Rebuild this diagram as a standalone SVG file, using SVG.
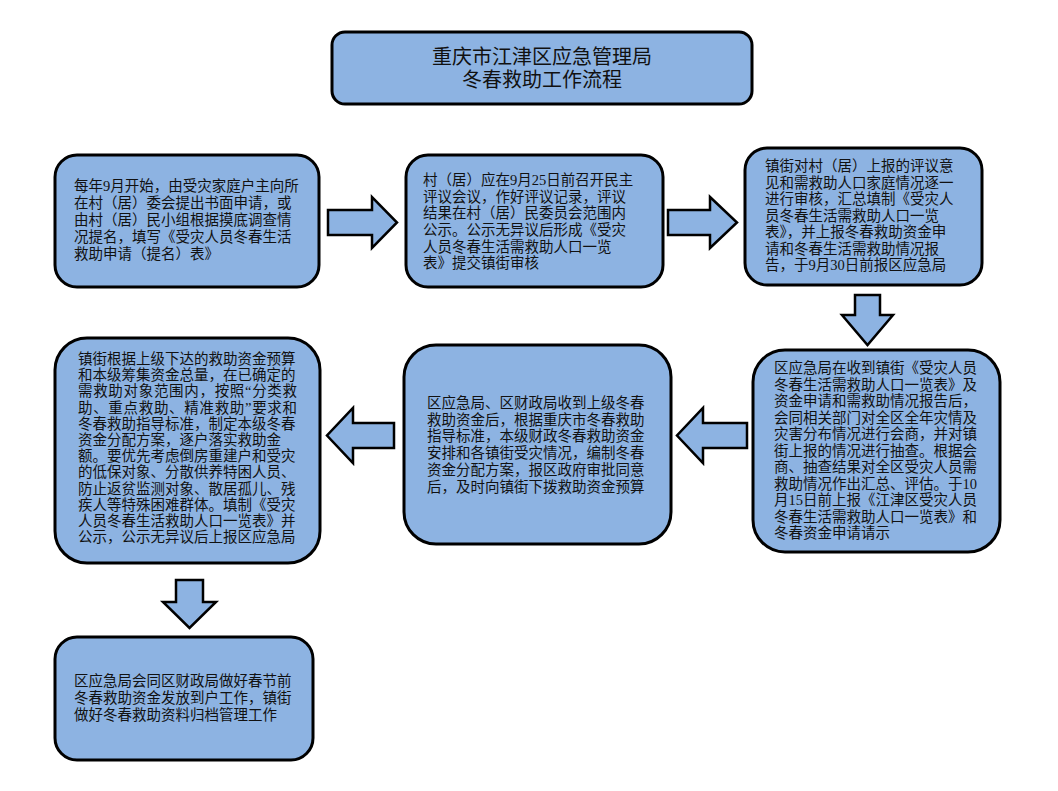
<svg xmlns="http://www.w3.org/2000/svg" width="1058" height="791" viewBox="0 0 1058 791">
<style>
.box{fill:#8DB3E2;stroke:#000;stroke-width:3}
.arr{fill:#8DB3E2;stroke:#000;stroke-width:2.5;stroke-linejoin:miter}
.t{font-family:"Liberation Serif","Noto Sans CJK SC",sans-serif;font-size:14.5px;fill:#111}
.title{font-family:"Liberation Sans","Noto Sans CJK SC","Noto Sans CJK JP",sans-serif;font-size:20px;fill:#111;text-anchor:middle}
</style>
<rect width="1058" height="791" fill="#fff"/>
<g id="title">
<rect class="box" x="332" y="32" width="420" height="72" rx="13"/>
<text class="title" x="542" y="64">重庆市江津区应急管理局</text>
<text class="title" x="542" y="87">冬春救助工作流程</text>
</g>
<g id="n1">
<rect class="box" x="55" y="155" width="264" height="132" rx="22"/>
<text class="t" x="74" y="191">每年9月开始，由受灾家庭户主向所</text>
<text class="t" x="74" y="208">在村（居）委会提出书面申请，或</text>
<text class="t" x="74" y="225">由村（居）民小组根据摸底调查情</text>
<text class="t" x="74" y="242">况提名，填写《受灾人员冬春生活</text>
<text class="t" x="74" y="259">救助申请（提名）表》</text>
</g>
<g id="n2">
<rect class="box" x="406" y="155" width="257" height="132" rx="22"/>
<text class="t" x="423" y="185">村（居）应在9月25日前召开民主</text>
<text class="t" x="423" y="202">评议会议，作好评议记录，评议</text>
<text class="t" x="423" y="218">结果在村（居）民委员会范围内</text>
<text class="t" x="423" y="235">公示。公示无异议后形成《受灾</text>
<text class="t" x="423" y="252">人员冬春生活需救助人口一览</text>
<text class="t" x="423" y="268">表》提交镇街审核</text>
</g>
<g id="n3">
<rect class="box" x="745" y="148" width="237" height="137" rx="22"/>
<text class="t" x="765" y="171">镇街对村（居）上报的评议意</text>
<text class="t" x="765" y="187.5">见和需救助人口家庭情况逐一</text>
<text class="t" x="765" y="204">进行审核，汇总填制《受灾人</text>
<text class="t" x="765" y="220.5">员冬春生活需救助人口一览</text>
<text class="t" x="765" y="237">表》，并上报冬春救助资金申</text>
<text class="t" x="765" y="253.5">请和冬春生活需救助情况报</text>
<text class="t" x="765" y="270">告，于9月30日前报区应急局</text>
</g>
<g id="n4">
<rect class="box" x="753" y="350" width="247" height="202" rx="32"/>
<text class="t" x="774" y="373">区应急局在收到镇街《受灾人员</text>
<text class="t" x="774" y="389.5">冬春生活需救助人口一览表》及</text>
<text class="t" x="774" y="406">资金申请和需救助情况报告后，</text>
<text class="t" x="774" y="422.5">会同相关部门对全区全年灾情及</text>
<text class="t" x="774" y="439">灾害分布情况进行会商，并对镇</text>
<text class="t" x="774" y="455.5">街上报的情况进行抽查。根据会</text>
<text class="t" x="774" y="472">商、抽查结果对全区受灾人员需</text>
<text class="t" x="774" y="488.5">救助情况作出汇总、评估。于10</text>
<text class="t" x="774" y="505">月15日前上报《江津区受灾人员</text>
<text class="t" x="774" y="521.5">冬春生活需救助人口一览表》和</text>
<text class="t" x="774" y="538">冬春资金申请请示</text>
</g>
<g id="n5">
<rect class="box" x="404" y="345" width="267" height="199" rx="32"/>
<text class="t" x="427" y="408">区应急局、区财政局收到上级冬春</text>
<text class="t" x="427" y="425">救助资金后，根据重庆市冬春救助</text>
<text class="t" x="427" y="441">指导标准，本级财政冬春救助资金</text>
<text class="t" x="427" y="458">安排和各镇街受灾情况，编制冬春</text>
<text class="t" x="427" y="475">资金分配方案，报区政府审批同意</text>
<text class="t" x="427" y="492">后，及时向镇街下拨救助资金预算</text>
</g>
<g id="n6">
<rect class="box" x="55" y="338" width="265" height="225" rx="32"/>
<text class="t" x="78" y="364">镇街根据上级下达的救助资金预算</text>
<text class="t" x="78" y="380.2">和本级筹集资金总量，在已确定的</text>
<text class="t" x="78" y="396.4" textLength="219" lengthAdjust="spacing">需救助对象范围内，按照“分类救</text>
<text class="t" x="78" y="412.6" textLength="219" lengthAdjust="spacing">助、重点救助、精准救助”要求和</text>
<text class="t" x="78" y="428.8">冬春救助指导标准，制定本级冬春</text>
<text class="t" x="78" y="445">资金分配方案，逐户落实救助金</text>
<text class="t" x="78" y="461.2">额。要优先考虑倒房重建户和受灾</text>
<text class="t" x="78" y="477.4">的低保对象、分散供养特困人员、</text>
<text class="t" x="78" y="493.6">防止返贫监测对象、散居孤儿、残</text>
<text class="t" x="78" y="509.8">疾人等特殊困难群体。填制《受灾</text>
<text class="t" x="78" y="526">人员冬春生活救助人口一览表》并</text>
<text class="t" x="78" y="542.2">公示，公示无异议后上报区应急局</text>
</g>
<g id="n7">
<rect class="box" x="55" y="637" width="258" height="123" rx="22"/>
<text class="t" x="74" y="686">区应急局会同区财政局做好春节前</text>
<text class="t" x="74" y="703">冬春救助资金发放到户工作，镇街</text>
<text class="t" x="74" y="720">做好冬春救助资料归档管理工作</text>
</g>
<g id="connectors">
<polygon class="arr" points="328,210 372,210 372,197 397,222.5 372,248 372,235 328,235"/>
<polygon class="arr" points="668,210 710,210 710,197 737,222.5 710,248 710,235 668,235"/>
<polygon class="arr" points="855,295 880,295 880,315 893,315 867.5,345 842,315 855,315"/>
<polygon class="arr" points="747,423 703,423 703,408 677,435.5 703,463 703,448 747,448"/>
<polygon class="arr" points="394,423 353,423 353,408 327,435.5 353,463 353,448 394,448"/>
<polygon class="arr" points="176,580 203,580 203,602 216,602 189.5,628 163,602 176,602"/>
</g>
</svg>
